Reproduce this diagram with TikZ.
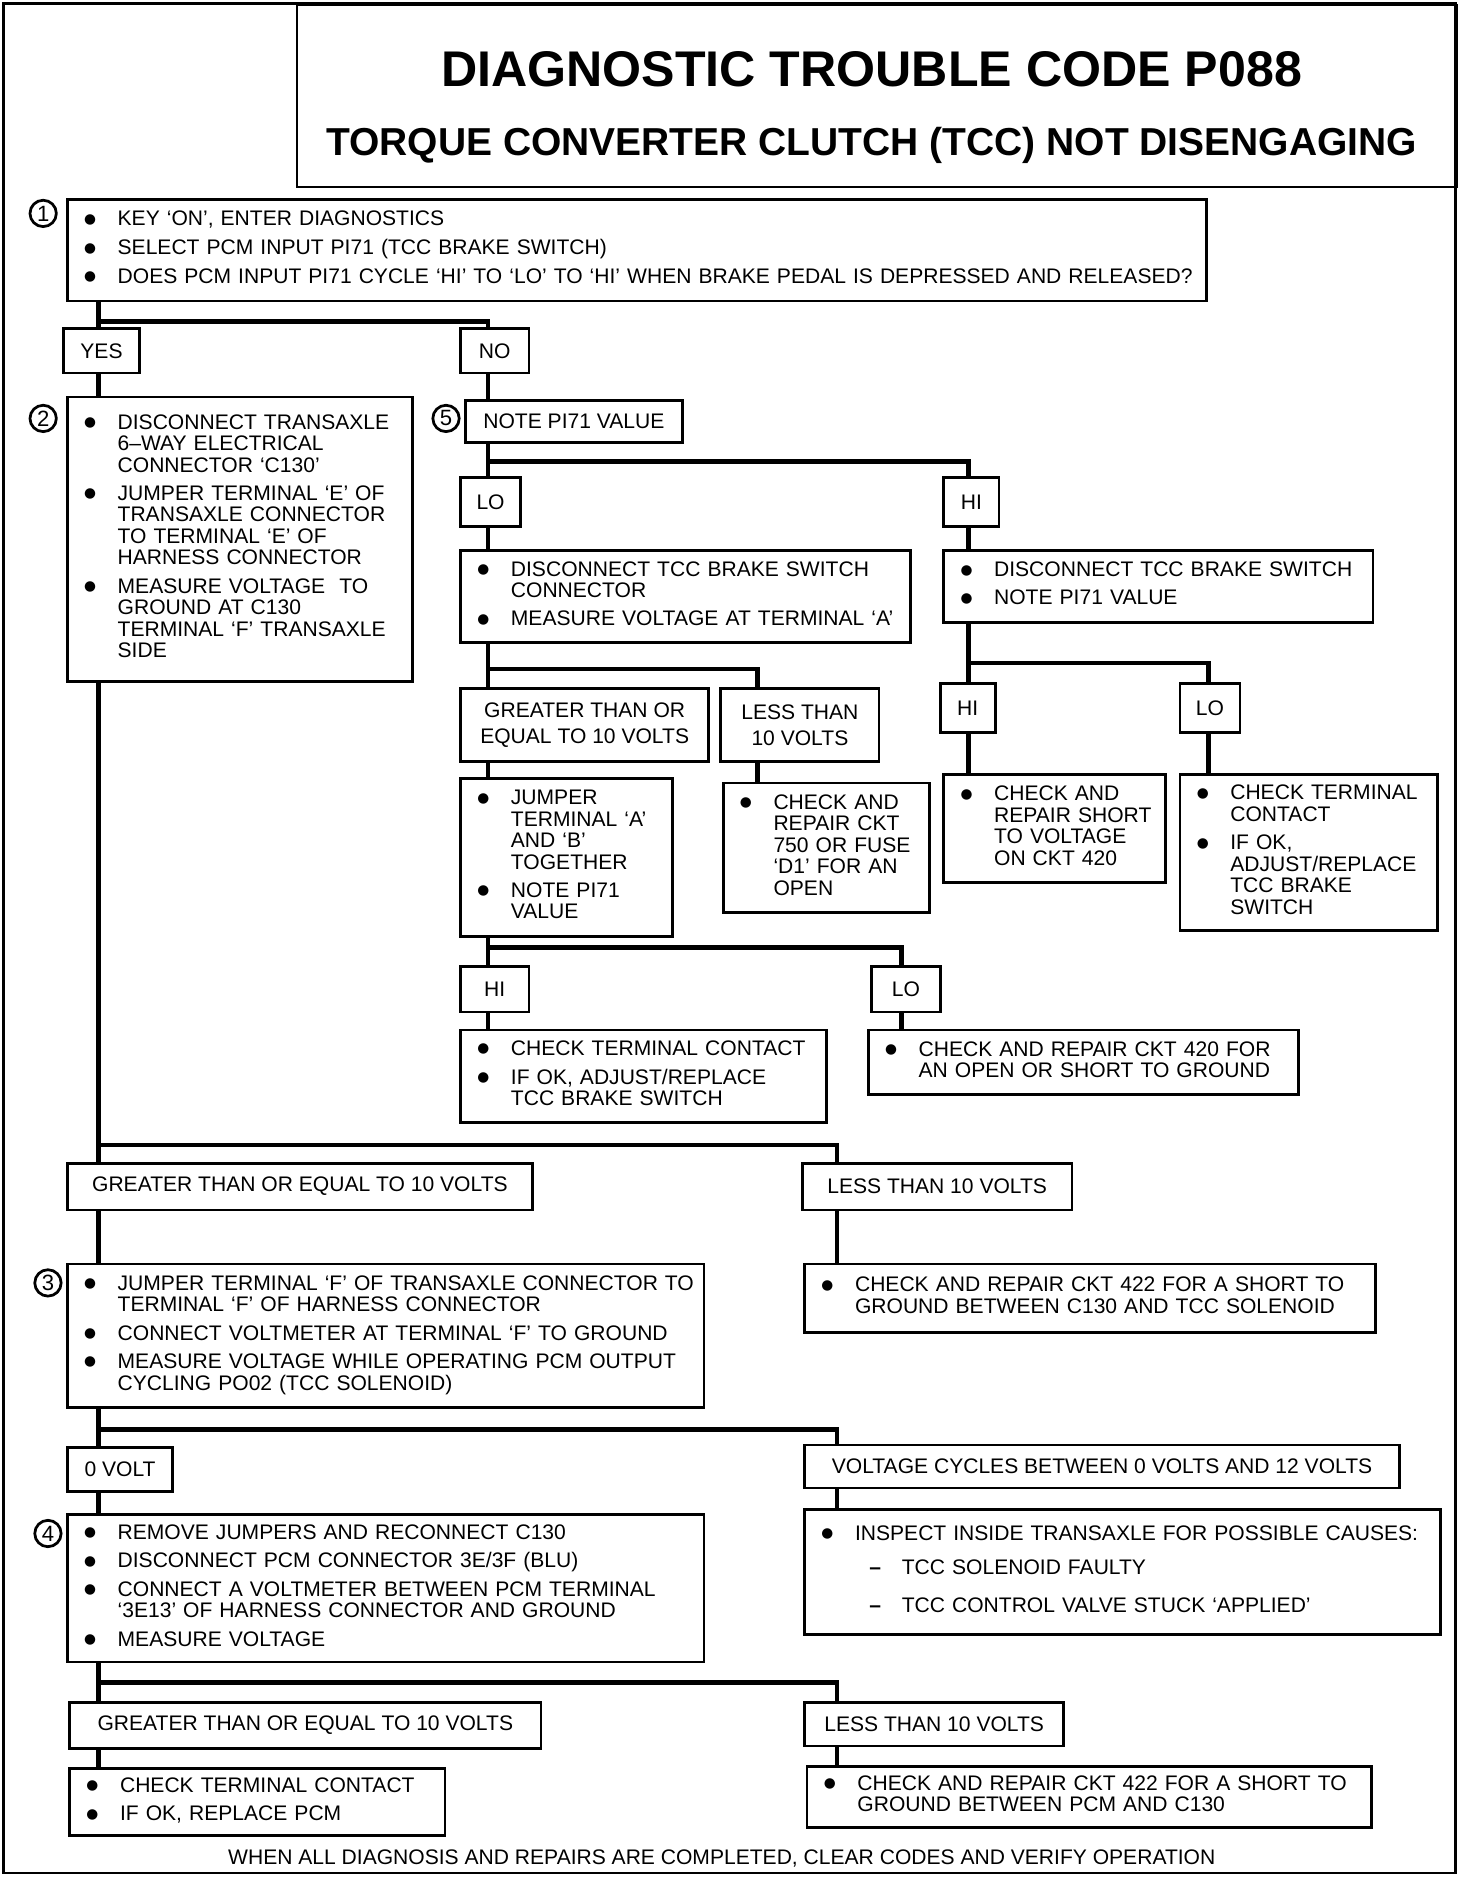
\documentclass[tikz,border=0pt]{standalone}
\usepackage{fontspec}
\setmainfont{Liberation Sans}
\newfontfamily\symfont{DejaVu Sans}
\usetikzlibrary{calc,positioning}

\newcommand{\bul}{\raisebox{1.2pt}{\symfont\fontsize{6.5}{7}\selectfont ●}}
\newcommand{\blist}[1]{\begin{tabular}{@{}p{0.56cm}@{}l@{}}#1\end{tabular}}
\newcommand{\nb}{\\[3.3pt]}
\newcommand{\dashitem}[1]{\hspace{0.24cm}\makebox[0.54cm][l]{\textbf{--}}#1}

\begin{document}
\begin{tikzpicture}[x=0.02cm, y=-0.02cm,
  box/.style={draw, line width=1.3pt, anchor=north west, inner xsep=0.28cm, inner ysep=0pt,
    align=left, font=\fontsize{10}{10.2}\selectfont},
  bbox/.style 2 args={box, minimum width=#1*0.02cm, minimum height=#2*0.02cm,
    text width=#1*0.02cm-0.56cm},
  lbox/.style 2 args={draw, line width=1.3pt, anchor=north west, inner sep=0pt, align=center,
    font=\fontsize{10}{10.2}\selectfont, minimum width=#1*0.02cm, minimum height=#2*0.02cm},
  link/.style={line width=2.2pt},
  stepnum/.style={circle, draw, line width=1.3pt, inner sep=0pt, minimum size=0.44cm,
    font=\fontsize{10.5}{10}\selectfont}]
  \useasboundingbox (0,0) rectangle (1228,1568);

  % frame and heading
  \draw[line width=1.1pt] (3,3) rectangle (1214,1562);
  \node[draw, line width=1.1pt, anchor=north west, minimum width=967*0.02cm,
    minimum height=152*0.02cm, inner sep=0pt] (hdr) at (247,3) {};
  \node[anchor=base, font=\bfseries\fontsize{23.8}{24}\selectfont] (ttl) at (727,72)
    {DIAGNOSTIC TROUBLE CODE P088};
  \node[anchor=base, font=\bfseries\fontsize{18.5}{19}\selectfont] (sub) at (727,130)
    {TORQUE CONVERTER CLUTCH (TCC) NOT DISENGAGING};

  % step 1
  \node[bbox={950}{85}] (b1) at (55,165) {\blist{%
    \bul & KEY ‘ON’, ENTER DIAGNOSTICS\nb
    \bul & SELECT PCM INPUT PI71 (TCC BRAKE SWITCH)\nb
    \bul & DOES PCM INPUT PI71 CYCLE ‘HI’ TO ‘LO’ TO ‘HI’ WHEN BRAKE PEDAL IS DEPRESSED AND RELEASED?}};
  \node[stepnum] (c1) at (36,178) {1};
  \node[lbox={63}{37}] (yes) at (52,273) {YES};
  \node[lbox={57}{37}] (no) at (383,273) {NO};

  % step 2
  \node[bbox={288}{237}] (b2) at (55,330) {\blist{%
    \bul & DISCONNECT TRANSAXLE\\
         & 6–WAY ELECTRICAL\\
         & CONNECTOR ‘C130’\nb
    \bul & JUMPER TERMINAL ‘E’ OF\\
         & TRANSAXLE CONNECTOR\\
         & TO TERMINAL ‘E’ OF\\
         & HARNESS CONNECTOR\nb
    \bul & MEASURE VOLTAGE\ \ TO\\
         & GROUND AT C130\\
         & TERMINAL ‘F’ TRANSAXLE\\
         & SIDE}};
  \node[stepnum] (c2) at (36,349) {2};

  % step 5
  \node[lbox={181}{35}] (b5) at (387,333) {NOTE PI71 VALUE};
  \node[stepnum] (c5) at (372,349) {5};
  \node[lbox={50}{41}] (loa) at (383,397) {LO};
  \node[lbox={46}{41}] (hia) at (786,397) {HI};
  \node[bbox={375}{77}] (b6) at (383,458) {\blist{%
    \bul & DISCONNECT TCC BRAKE SWITCH\\
         & CONNECTOR\nb
    \bul & MEASURE VOLTAGE AT TERMINAL ‘A’}};
  \node[bbox={358}{60}] (b7) at (786,458) {\blist{%
    \bul & DISCONNECT TCC BRAKE SWITCH\nb
    \bul & NOTE PI71 VALUE}};
  \node[lbox={207}{61}] (gea) at (383,573) {GREATER THAN OR\\[2pt]EQUAL TO 10 VOLTS};
  \node[lbox={132}{61}] (lta) at (600,573) {LESS THAN\\[2pt]10 VOLTS};
  \node[lbox={46}{41}] (hib) at (783,569) {HI};
  \node[lbox={50}{41}] (lob) at (983,569) {LO};
  \node[bbox={177}{132}] (b8) at (383,648) {\blist{%
    \bul & JUMPER\\
         & TERMINAL ‘A’\\
         & AND ‘B’\\
         & TOGETHER\nb
    \bul & NOTE PI71\\
         & VALUE}};
  \node[bbox={172}{108}] (b9) at (602,652) {\blist{%
    \bul & CHECK AND\\
         & REPAIR CKT\\
         & 750 OR FUSE\\
         & ‘D1’ FOR AN\\
         & OPEN}};
  \node[bbox={185}{90}] (b10) at (786,645) {\blist{%
    \bul & CHECK AND\\
         & REPAIR SHORT\\
         & TO VOLTAGE\\
         & ON CKT 420}};
  \node[bbox={215}{130}] (b11) at (983,645) {\blist{%
    \bul & CHECK TERMINAL\\
         & CONTACT\nb
    \bul & IF OK,\\
         & ADJUST/REPLACE\\
         & TCC BRAKE\\
         & SWITCH}};
  \node[lbox={57}{38}] (hic) at (383,805) {HI};
  \node[lbox={57}{38}] (loc) at (726,805) {LO};
  \node[bbox={305}{77}] (b12) at (383,858) {\blist{%
    \bul & CHECK TERMINAL CONTACT\nb
    \bul & IF OK, ADJUST/REPLACE\\
         & TCC BRAKE SWITCH}};
  \node[bbox={359}{54}] (b13) at (723,858) {\blist{%
    \bul & CHECK AND REPAIR CKT 420 FOR\\
         & AN OPEN OR SHORT TO GROUND}};

  % step 3
  \node[lbox={388}{39}] (geb) at (55,969) {GREATER THAN OR EQUAL TO 10 VOLTS};
  \node[lbox={225}{39}] (ltb) at (668,969) {LESS THAN 10 VOLTS};
  \node[bbox={531}{120}] (b3) at (55,1053) {\blist{%
    \bul & JUMPER TERMINAL ‘F’ OF TRANSAXLE CONNECTOR TO\\
         & TERMINAL ‘F’ OF HARNESS CONNECTOR\nb
    \bul & CONNECT VOLTMETER AT TERMINAL ‘F’ TO GROUND\nb
    \bul & MEASURE VOLTAGE WHILE OPERATING PCM OUTPUT\\
         & CYCLING PO02 (TCC SOLENOID)}};
  \node[stepnum] (c3) at (40,1070) {3};
  \node[bbox={476}{57}] (b14) at (670,1053) {\blist{%
    \bul & CHECK AND REPAIR CKT 422 FOR A SHORT TO\\
         & GROUND BETWEEN C130 AND TCC SOLENOID}};

  % step 4
  \node[lbox={88}{37}] (vzero) at (55,1206) {0 VOLT};
  \node[lbox={496}{36}] (vcyc) at (670,1204) {VOLTAGE CYCLES BETWEEN 0 VOLTS AND 12 VOLTS};
  \node[bbox={531}{123}] (b4) at (55,1262) {\blist{%
    \bul & REMOVE JUMPERS AND RECONNECT C130\nb
    \bul & DISCONNECT PCM CONNECTOR 3E/3F (BLU)\nb
    \bul & CONNECT A VOLTMETER BETWEEN PCM TERMINAL\\
         & ‘3E13’ OF HARNESS CONNECTOR AND GROUND\nb
    \bul & MEASURE VOLTAGE}};
  \node[stepnum] (c4) at (40,1279) {4};
  \node[bbox={530}{104}] (b15) at (670,1258) {\blist{%
    \bul & INSPECT INSIDE TRANSAXLE FOR POSSIBLE CAUSES:\\[6pt]
         & \dashitem{TCC SOLENOID FAULTY}\\[8pt]
         & \dashitem{TCC CONTROL VALVE STUCK ‘APPLIED’}}};
  \node[lbox={393}{38}] (gec) at (57,1419) {GREATER THAN OR EQUAL TO 10 VOLTS};
  \node[lbox={216}{36}] (ltc) at (670,1419) {LESS THAN 10 VOLTS};
  \node[bbox={313}{56}] (b16) at (57,1474) {\blist{%
    \bul & CHECK TERMINAL CONTACT\nb
    \bul & IF OK, REPLACE PCM}};
  \node[bbox={471}{51}] (b17) at (672,1472) {\blist{%
    \bul & CHECK AND REPAIR CKT 422 FOR A SHORT TO\\
         & GROUND BETWEEN PCM AND C130}};
  \node[anchor=base, font=\fontsize{10}{10.2}\selectfont] (foot) at (602,1555)
    {WHEN ALL DIAGNOSIS AND REPAIRS ARE COMPLETED, CLEAR CODES AND VERIFY OPERATION};

  % columns and branch points
  \coordinate (cA) at (82,0);
  \coordinate (cB) at (407,0);
  \coordinate (cC) at (632,0);
  \coordinate (cD) at (808,0);
  \coordinate (cE) at (1008,0);
  \coordinate (cF) at (752,0);
  \coordinate (cG) at (698,0);
  \coordinate (j1) at (82,268);
  \coordinate (j2) at (407,385);
  \coordinate (j3) at (407,558);
  \coordinate (j4) at (808,553);
  \coordinate (j5) at (407,790);
  \coordinate (j6) at (82,955);
  \coordinate (j7) at (82,1192);
  \coordinate (j8) at (82,1403);

  \draw[link] (cA |- b1.south) -- (cA |- yes.north);
  \draw[link] (j1) -| (cB |- no.north);
  \draw[link] (cA |- yes.south) -- (cA |- b2.north);
  \draw[link] (cB |- no.south) -- (cB |- b5.north);
  \draw[link] (cB |- b5.south) -- (cB |- loa.north);
  \draw[link] (j2) -| (cD |- hia.north);
  \draw[link] (cB |- loa.south) -- (cB |- b6.north);
  \draw[link] (cD |- hia.south) -- (cD |- b7.north);
  \draw[link] (cB |- b6.south) -- (cB |- gea.north);
  \draw[link] (j3) -| (cC |- lta.north);
  \draw[link] (cD |- b7.south) -- (cD |- hib.north);
  \draw[link] (j4) -| (cE |- lob.north);
  \draw[link] (cB |- gea.south) -- (cB |- b8.north);
  \draw[link] (cC |- lta.south) -- (cC |- b9.north);
  \draw[link] (cD |- hib.south) -- (cD |- b10.north);
  \draw[link] (cE |- lob.south) -- (cE |- b11.north);
  \draw[link] (cB |- b8.south) -- (cB |- hic.north);
  \draw[link] (j5) -| (cF |- loc.north);
  \draw[link] (cB |- hic.south) -- (cB |- b12.north);
  \draw[link] (cF |- loc.south) -- (cF |- b13.north);
  \draw[link] (cA |- b2.south) -- (cA |- geb.north);
  \draw[link] (j6) -| (cG |- ltb.north);
  \draw[link] (cA |- geb.south) -- (cA |- b3.north);
  \draw[link] (cG |- ltb.south) -- (cG |- b14.north);
  \draw[link] (cA |- b3.south) -- (cA |- vzero.north);
  \draw[link] (j7) -| (cG |- vcyc.north);
  \draw[link] (cA |- vzero.south) -- (cA |- b4.north);
  \draw[link] (cG |- vcyc.south) -- (cG |- b15.north);
  \draw[link] (cA |- b4.south) -- (cA |- gec.north);
  \draw[link] (j8) -| (cG |- ltc.north);
  \draw[link] (cA |- gec.south) -- (cA |- b16.north);
  \draw[link] (cG |- ltc.south) -- (cG |- b17.north);
\end{tikzpicture}
\end{document}
